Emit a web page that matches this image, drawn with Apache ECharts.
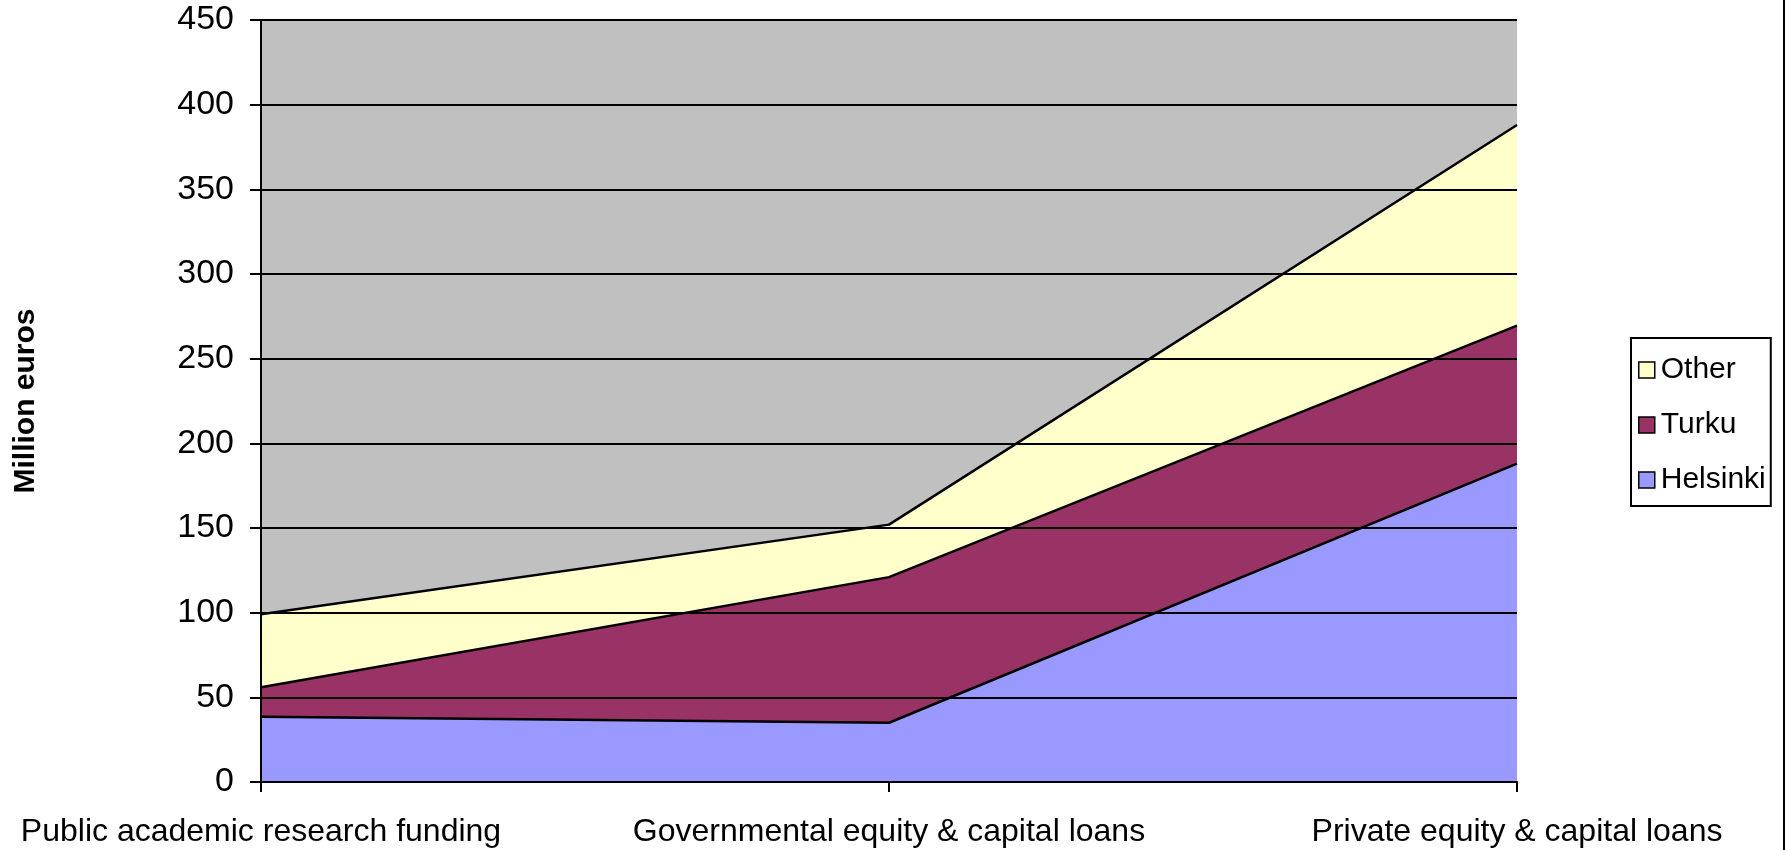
<!DOCTYPE html>
<html>
<head>
<meta charset="utf-8">
<script src="https://cdn.jsdelivr.net/npm/echarts@6/dist/echarts.min.js"></script>
<style>
html,body{margin:0;padding:0;background:#fff;}
#chart{width:1787px;height:850px;}
</style>
</head>
<body>
<div id="chart"></div>
<script>
var categories = ['Public academic research funding', 'Governmental equity & capital loans', 'Private equity & capital loans'];
var helsinki = [38.5, 35, 188];
var turku = [17.5, 86, 81.5];
var other = [43, 31, 118.5];
var yTicks = { min: 0, max: 450, interval: 50 };

var font = 'Liberation Sans, Arial, sans-serif';
var chart = echarts.init(document.getElementById('chart'), null, { renderer: 'canvas' });

function areaSeries(name, data, color) {
  return {
    name: name,
    type: 'line',
    stack: 'total',
    data: data,
    symbol: 'none',
    lineStyle: { color: '#000', width: 2.5 },
    itemStyle: { color: color, borderColor: '#000', borderWidth: 1.5 },
    areaStyle: { color: color, opacity: 1 },
    z: 2
  };
}

chart.setOption({
  animation: false,
  backgroundColor: '#fff',
  grid: {
    left: 261, right: 270, top: 20, bottom: 68,
    show: true, backgroundColor: '#C0C0C0', borderWidth: 0
  },
  legend: {
    data: ['Other', 'Turku', 'Helsinki'],
    orient: 'vertical',
    left: 1631, top: 338,
    itemWidth: 16, itemHeight: 16,
    itemGap: 25,
    icon: 'rect',
    padding: [17, 5, 11, 7],
    backgroundColor: '#fff',
    borderColor: '#000',
    borderWidth: 2,
    borderRadius: 0,
    textStyle: { fontFamily: font, fontSize: 30, color: '#000', lineHeight: 30, padding: [0, 0, 0, 1] },
    itemStyle: { borderColor: '#000', borderWidth: 1.5 }
  },
  xAxis: {
    type: 'category',
    data: categories,
    boundaryGap: false,
    z: 5,
    axisLine: { show: true, lineStyle: { color: '#000', width: 2 } },
    axisTick: { show: true, alignWithLabel: true, length: 10, lineStyle: { color: '#000', width: 2 } },
    axisLabel: { fontFamily: font, fontSize: 32, color: '#000', margin: 34, interval: 0 },
    splitLine: { show: false }
  },
  yAxis: {
    type: 'value',
    min: yTicks.min, max: yTicks.max, interval: yTicks.interval,
    name: 'Million euros',
    nameLocation: 'middle',
    nameGap: 220,
    nameRotate: 90,
    nameTextStyle: { fontFamily: font, fontSize: 30, fontWeight: 'bold', color: '#000' },
    z: 5,
    axisLine: { show: true, lineStyle: { color: '#000', width: 2 } },
    axisTick: { show: true, length: 11, lineStyle: { color: '#000', width: 2 } },
    axisLabel: { fontFamily: font, fontSize: 34, color: '#000', margin: 27 },
    splitLine: { show: true, lineStyle: { color: '#000', width: 2 } }
  },
  series: [
    areaSeries('Helsinki', helsinki, '#9999FF'),
    areaSeries('Turku', turku, '#993366'),
    areaSeries('Other', other, '#FFFFCC')
  ],
  graphic: [{
    type: 'line',
    shape: { x1: 1784, y1: 0, x2: 1784, y2: 850 },
    style: { stroke: '#000', lineWidth: 2 }
  }]
});
</script>
</body>
</html>
